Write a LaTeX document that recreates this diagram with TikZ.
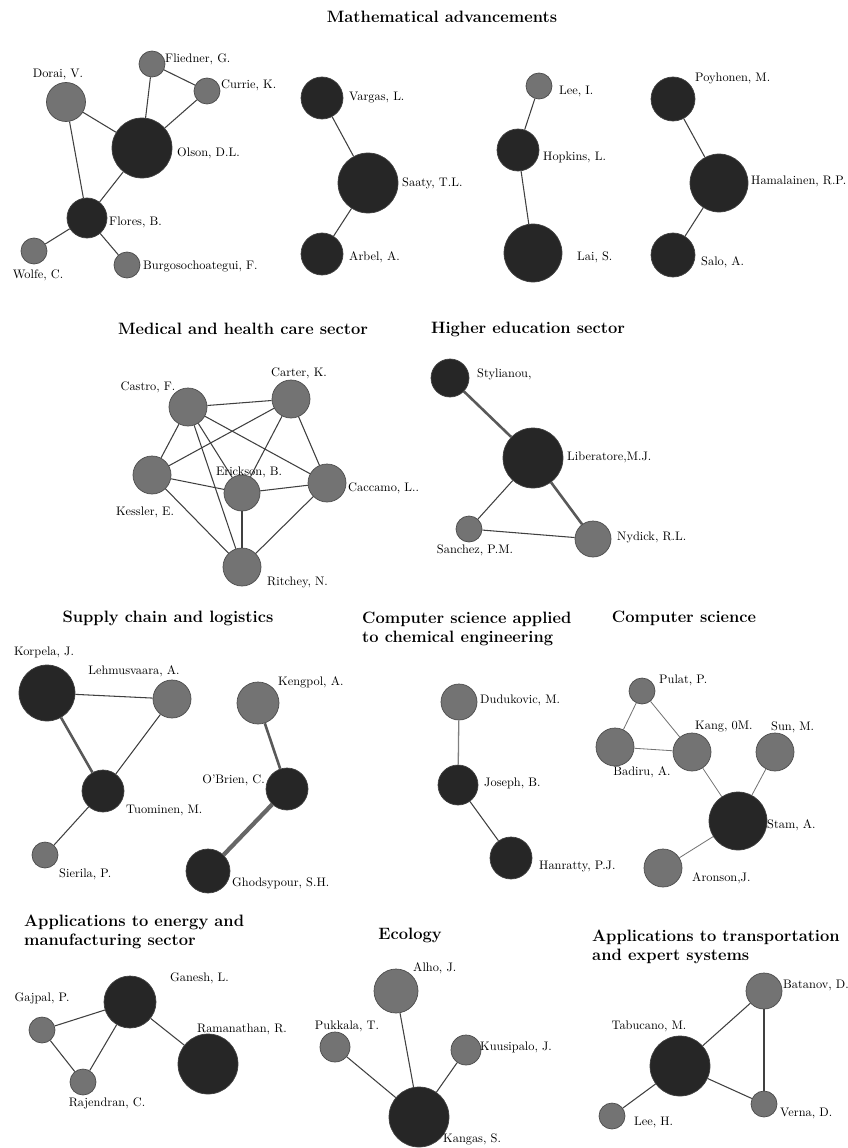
\documentclass[tikz,border=0pt]{standalone}

\tikzset{
  darknode/.style={circle, draw=black!75, fill=black!85, line width=0.6pt, inner sep=0pt, minimum size=#1*1.7pt},
  greynode/.style={circle, draw=black!70, fill=black!55, line width=0.6pt, inner sep=0pt, minimum size=#1*1.7pt},
  link/.style={draw=black!75, line width=0.9pt},
  faintlink/.style={draw=black!55, line width=0.7pt},
  greylink/.style={draw=black!50, line width=1.1pt},
  heavylink/.style={draw=black!65, line width=2.2pt},
  heaviestlink/.style={draw=black!60, line width=3.6pt},
  lbl/.style={inner sep=0pt, font=\fontsize{10.5}{12.5}\selectfont},
  ttl/.style={inner sep=0pt, align=left, font=\fontsize{14}{16.5}\selectfont\bfseries}
}

\begin{document}
\begin{tikzpicture}[x=0.85pt, y=-0.85pt]
    \useasboundingbox (0,0) rectangle (847,1148);

    % Mathematical advancements
    \node[ttl] (t-math) at (442,17) {Mathematical advancements};

    \node[greynode=19.5] (dorai) at (66,102) {};
    \node[greynode=13] (fliedner) at (152,64) {};
    \node[greynode=13] (currie) at (207,91) {};
    \node[darknode=30] (olson) at (142,148) {};
    \node[darknode=20] (flores) at (87,218) {};
    \node[greynode=13] (wolfe) at (34,251) {};
    \node[greynode=13] (burgos) at (127,265) {};
    \draw[link] (dorai) -- (olson);
    \draw[link] (dorai) -- (flores);
    \draw[link] (fliedner) -- (olson);
    \draw[link] (fliedner) -- (currie);
    \draw[link] (currie) -- (olson);
    \draw[link] (olson) -- (flores);
    \draw[link] (flores) -- (wolfe);
    \draw[link] (flores) -- (burgos);
    \node[lbl] (dorai-l) at (58,74) {Dorai, V.};
    \node[lbl, anchor=west] (fliedner-l) at (165,59) {Fliedner, G.};
    \node[lbl, anchor=west] (currie-l) at (221,85) {Currie, K.};
    \node[lbl, anchor=west] (olson-l) at (177,153) {Olson, D.L.};
    \node[lbl, anchor=west] (flores-l) at (109,222) {Flores, B.};
    \node[lbl] (wolfe-l) at (38,275) {Wolfe, C.};
    \node[lbl, anchor=west] (burgos-l) at (143,266) {Burgosochoategui, F.};

    \node[darknode=21] (vargas) at (322,98) {};
    \node[darknode=30] (saaty) at (368,183) {};
    \node[darknode=21] (arbel) at (322,254) {};
    \draw[link] (vargas) -- (saaty);
    \draw[link] (saaty) -- (arbel);
    \node[lbl, anchor=west] (vargas-l) at (349,98) {Vargas, L.};
    \node[lbl, anchor=west] (saaty-l) at (402,183) {Saaty, T.L.};
    \node[lbl, anchor=west] (arbel-l) at (349,257) {Arbel, A.};

    \node[greynode=13] (leei) at (539,86) {};
    \node[darknode=21] (hopkins) at (518,150) {};
    \node[darknode=29] (lai) at (533,253) {};
    \draw[link] (leei) -- (hopkins);
    \draw[link] (hopkins) -- (lai);
    \node[lbl, anchor=west] (leei-l) at (559,91) {Lee, I.};
    \node[lbl, anchor=west] (hopkins-l) at (543,157) {Hopkins, L.};
    \node[lbl, anchor=west] (lai-l) at (577,257) {Lai, S.};

    \node[darknode=22] (poyhonen) at (673,99) {};
    \node[darknode=29] (hamalainen) at (719,183) {};
    \node[darknode=22] (salo) at (673,255) {};
    \draw[link] (poyhonen) -- (hamalainen);
    \draw[link] (hamalainen) -- (salo);
    \node[lbl, anchor=west] (poyhonen-l) at (695,78) {Poyhonen, M.};
    \node[lbl, anchor=west] (hamalainen-l) at (751,181) {Hamalainen, R.P.};
    \node[lbl, anchor=west] (salo-l) at (701,262) {Salo, A.};

    % Medical and health care sector
    \node[ttl] (t-med) at (243,329) {Medical and health care sector};

    \node[greynode=19] (castro) at (188,407) {};
    \node[greynode=19] (carter) at (291,399) {};
    \node[greynode=19] (kessler) at (152,475) {};
    \node[greynode=18] (erickson) at (242,493) {};
    \node[greynode=19] (caccamo) at (327,483) {};
    \node[greynode=19] (ritchey) at (242,567) {};
    \draw[link] (castro) -- (carter);
    \draw[link] (castro) -- (kessler);
    \draw[link] (castro) -- (erickson);
    \draw[link] (castro) -- (caccamo);
    \draw[link] (castro) -- (ritchey);
    \draw[link] (carter) -- (kessler);
    \draw[link] (carter) -- (erickson);
    \draw[link] (carter) -- (caccamo);
    \draw[link] (kessler) -- (erickson);
    \draw[link] (kessler) -- (ritchey);
    \draw[link] (erickson) -- (caccamo);
    \draw[link] (erickson) -- (ritchey);
    \draw[link] (caccamo) -- (ritchey);
    \node[lbl] (castro-l) at (148,387) {Castro, F.};
    \node[lbl] (carter-l) at (299,373) {Carter, K.};
    \node[lbl] (kessler-l) at (145,512) {Kessler, E.};
    \node[lbl] (erickson-l) at (249,472) {Erickson, B.};
    \node[lbl, anchor=west] (caccamo-l) at (348,488) {Caccamo, L..};
    \node[lbl, anchor=west] (ritchey-l) at (267,582) {Ritchey, N.};

    % Higher education sector
    \node[ttl] (t-edu) at (528,329) {Higher education sector};

    \node[darknode=19] (stylianou) at (450,378) {};
    \node[darknode=30] (liberatore) at (533,458) {};
    \node[greynode=13] (sanchez) at (469,529) {};
    \node[greynode=18] (nydick) at (593,539) {};
    \draw[heavylink] (stylianou) -- (liberatore);
    \draw[heavylink] (liberatore) -- (nydick);
    \draw[link] (liberatore) -- (sanchez);
    \draw[link] (sanchez) -- (nydick);
    \node[lbl, anchor=west] (stylianou-l) at (477,374) {Stylianou,};
    \node[lbl, anchor=west] (liberatore-l) at (567,457) {Liberatore,M.J.};
    \node[lbl] (sanchez-l) at (475,550) {Sanchez, P.M.};
    \node[lbl, anchor=west] (nydick-l) at (617,537) {Nydick, R.L.};

    % Supply chain and logistics
    \node[ttl] (t-supply) at (168,618) {Supply chain and logistics};

    \node[darknode=28] (korpela) at (47,693) {};
    \node[greynode=19] (lehmus) at (172,699) {};
    \node[darknode=21] (tuominen) at (103,791) {};
    \node[greynode=13] (sierila) at (45,855) {};
    \draw[link] (korpela) -- (lehmus);
    \draw[heavylink] (korpela) -- (tuominen);
    \draw[link] (lehmus) -- (tuominen);
    \draw[link] (tuominen) -- (sierila);
    \node[lbl] (korpela-l) at (44,652) {Korpela, J.};
    \node[lbl] (lehmus-l) at (134,671) {Lehmusvaara, A.};
    \node[lbl, anchor=west] (tuominen-l) at (126,810) {Tuominen, M.};
    \node[lbl, anchor=west] (sierila-l) at (59,874) {Sierila, P.};

    \node[greynode=21] (kengpol) at (258,703) {};
    \node[darknode=21] (obrien) at (287,789) {};
    \node[darknode=22] (ghodsypour) at (208,871) {};
    \draw[heavylink] (kengpol) -- (obrien);
    \draw[heaviestlink] (obrien) -- (ghodsypour);
    \node[lbl, anchor=west] (kengpol-l) at (278,682) {Kengpol, A.};
    \node[lbl, anchor=east] (obrien-l) at (265,780) {O'Brien, C.};
    \node[lbl, anchor=west] (ghodsypour-l) at (232,883) {Ghodsypour, S.H.};

    % Computer science applied to chemical engineering
    \node[ttl, anchor=west] (t-chem) at (362,629) {Computer science applied\\to chemical engineering};

    \node[greynode=18] (dudukovic) at (459,702) {};
    \node[darknode=20] (joseph) at (458,785) {};
    \node[darknode=21] (hanratty) at (511,858) {};
    \draw[greylink] (dudukovic) -- (joseph);
    \draw[link] (joseph) -- (hanratty);
    \node[lbl, anchor=west] (dudukovic-l) at (480,700) {Dudukovic, M.};
    \node[lbl, anchor=west] (joseph-l) at (484,783) {Joseph, B.};
    \node[lbl, anchor=west] (hanratty-l) at (539,867) {Hanratty, P.J.};

    % Computer science
    \node[ttl] (t-cs) at (684,618) {Computer science};

    \node[greynode=13] (pulat) at (642,691) {};
    \node[greynode=19] (badiru) at (615,747) {};
    \node[greynode=19] (kang) at (692,752) {};
    \node[greynode=19] (sun) at (775,752) {};
    \node[darknode=29] (stam) at (738,821) {};
    \node[greynode=19] (aronson) at (663,868) {};
    \draw[faintlink] (pulat) -- (badiru);
    \draw[faintlink] (pulat) -- (kang);
    \draw[faintlink] (badiru) -- (kang);
    \draw[faintlink] (kang) -- (stam);
    \draw[faintlink] (sun) -- (stam);
    \draw[faintlink] (stam) -- (aronson);
    \node[lbl, anchor=west] (pulat-l) at (659,680) {Pulat, P.};
    \node[lbl] (badiru-l) at (642,772) {Badiru, A.};
    \node[lbl, anchor=west] (kang-l) at (695,727) {Kang, 0M.};
    \node[lbl, anchor=west] (sun-l) at (771,727) {Sun, M.};
    \node[lbl, anchor=west] (stam-l) at (767,825) {Stam, A.};
    \node[lbl, anchor=west] (aronson-l) at (692,878) {Aronson,J.};

    % Applications to energy and manufacturing sector
    \node[ttl, anchor=west] (t-energy) at (24,932) {Applications to energy and\\manufacturing sector};

    \node[darknode=26] (ganesh) at (130,1002) {};
    \node[greynode=13] (gajpal) at (42,1030) {};
    \node[greynode=13] (rajendran) at (83,1082) {};
    \node[darknode=30] (ramanathan) at (208,1064) {};
    \draw[link] (gajpal) -- (ganesh);
    \draw[link] (gajpal) -- (rajendran);
    \draw[link] (rajendran) -- (ganesh);
    \draw[link] (ganesh) -- (ramanathan);
    \node[lbl, anchor=west] (ganesh-l) at (170,978) {Ganesh, L.};
    \node[lbl] (gajpal-l) at (42,998) {Gajpal, P.};
    \node[lbl] (rajendran-l) at (107,1103) {Rajendran, C.};
    \node[lbl] (ramanathan-l) at (242,1029) {Ramanathan, R.};

    % Ecology
    \node[ttl] (t-eco) at (410,935) {Ecology};

    \node[greynode=22] (alho) at (396,991) {};
    \node[greynode=15] (pukkala) at (335,1047) {};
    \node[greynode=15] (kuusipalo) at (466,1050) {};
    \node[darknode=30] (kangas) at (419,1117) {};
    \draw[link] (alho) -- (kangas);
    \draw[link] (pukkala) -- (kangas);
    \draw[link] (kuusipalo) -- (kangas);
    \node[lbl, anchor=west] (alho-l) at (413,968) {Alho, J.};
    \node[lbl] (pukkala-l) at (347,1026) {Pukkala, T.};
    \node[lbl, anchor=west] (kuusipalo-l) at (480,1047) {Kuusipalo, J.};
    \node[lbl, anchor=west] (kangas-l) at (443,1139) {Kangas, S.};

    % Applications to transportation and expert systems
    \node[ttl, anchor=west] (t-trans) at (592,947) {Applications to transportation\\and expert systems};

    \node[greynode=18] (batanov) at (764,991) {};
    \node[darknode=30] (tabucano) at (680,1066) {};
    \node[greynode=13] (leeh) at (612,1116) {};
    \node[greynode=13] (verna) at (764,1104) {};
    \draw[link] (tabucano) -- (batanov);
    \draw[link] (batanov) -- (verna);
    \draw[link] (tabucano) -- (verna);
    \draw[link] (tabucano) -- (leeh);
    \node[lbl, anchor=west] (batanov-l) at (783,985) {Batanov, D.};
    \node[lbl] (tabucano-l) at (649,1026) {Tabucano, M.};
    \node[lbl, anchor=west] (leeh-l) at (634,1122) {Lee, H.};
    \node[lbl, anchor=west] (verna-l) at (780,1113) {Verna, D.};
\end{tikzpicture}
\end{document}
